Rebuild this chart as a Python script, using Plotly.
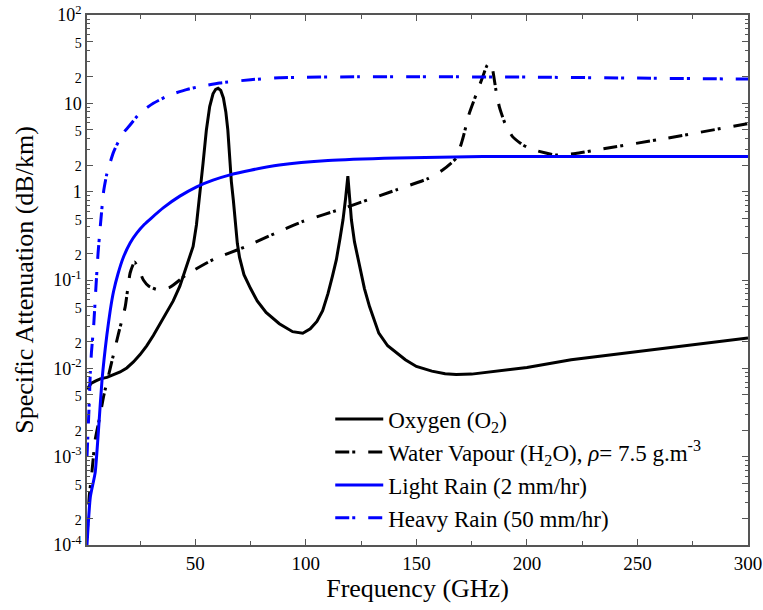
import plotly.graph_objects as go

# ---------------- data ----------------
oxy_f = [1, 3, 5, 7, 10, 13, 16, 19, 22, 25, 28, 31, 34, 37, 40, 43, 46, 49, 50.5, 52, 53.5,
         55, 56.5, 58, 59.2, 60.3, 61.5, 62.7, 63.8, 64.7, 65.5, 66.3, 67.2, 68, 69, 70, 72,
         75, 78, 82, 88, 94, 98.6, 102, 105, 107.6, 110, 112, 113.8, 115.5, 116.8, 118, 119,
         119.8, 120.6, 122, 124.3, 126.5, 128.8, 131, 133, 137, 141, 145, 150, 157, 163, 168,
         175, 185, 200, 220, 250, 280, 300]
oxy_v = [0.0058, 0.0068, 0.0072, 0.0076, 0.0079, 0.0084, 0.0091, 0.0101, 0.0118, 0.0143,
         0.018, 0.0235, 0.032, 0.043, 0.058, 0.085, 0.14, 0.24, 0.42, 0.9, 2.1,
         5.0, 9.2, 12.8, 14.4, 14.8, 14.0, 11.5, 8.0, 5.0, 2.4, 1.3, 0.8, 0.45, 0.26, 0.18,
         0.115, 0.08, 0.058, 0.043, 0.032, 0.026, 0.025, 0.028, 0.034, 0.045, 0.07, 0.11,
         0.17, 0.3, 0.48, 0.85, 1.5, 0.85, 0.48, 0.27, 0.14, 0.08, 0.05, 0.034, 0.025, 0.018,
         0.015, 0.0125, 0.0105, 0.0093, 0.0087, 0.0085, 0.0086, 0.0092, 0.0102, 0.0125,
         0.0155, 0.019, 0.022]

h2o_f = [1, 2, 3.2, 4.7, 7, 8.5, 11.5, 15.3, 18.3, 20.5, 22.5, 24.5, 26.5, 29, 32.6, 38.6, 46,
         58, 73, 88, 98.6, 118, 141, 155, 162, 168, 171, 174, 177, 180, 182, 183.3, 184.5,
         186, 187.5, 190, 193.5, 198, 202.5, 213, 222, 232.6, 262.7, 300]
h2o_v = [1.2e-4, 3.5e-4, 6.6e-4, 1.55e-3, 3e-3, 4.8e-3, 0.01, 0.025, 0.05, 0.12, 0.16, 0.13,
         0.1, 0.085, 0.078, 0.083, 0.115, 0.17, 0.24, 0.355, 0.46, 0.66, 1.05, 1.4, 1.77, 2.4,
         4.0, 7.8, 12.5, 20, 27, 29, 24, 14, 9.2, 6.0, 4.2, 3.4, 3.0, 2.6, 2.7, 3.0, 4.0, 5.9]

light_f = [1, 2.5, 4.7, 6.2, 7.8, 10, 11.5, 13, 15, 17.5, 20.5, 23.5, 27, 30, 35.6, 43, 50.6,
           58, 65.7, 75, 88, 110, 141, 180, 220, 260, 300]
light_v = [1e-4, 3.5e-4, 6.6e-4, 2e-3, 7.4e-3, 0.024, 0.045, 0.074, 0.117, 0.182, 0.263,
           0.339, 0.427, 0.5, 0.66, 0.89, 1.135, 1.35, 1.55, 1.75, 2.0, 2.25, 2.4, 2.5, 2.5,
           2.5, 2.5]

heavy_f = [1, 2, 2.5, 3, 4, 5, 6, 7, 8.5, 10, 13, 17, 20, 25, 31, 38, 46, 52, 61, 75, 88, 124,
           150, 200, 250, 300]
heavy_v = [1e-3, 4e-3, 9e-3, 0.015, 0.03, 0.08, 0.2, 0.4, 1.0, 1.6, 2.8, 4.5, 5.5, 7.8, 10,
           12.3, 14.3, 15.5, 17, 18.5, 19.5, 20, 20, 19.8, 19.3, 18.8]

names = ["Oxygen (O<sub>2</sub>)",
         "Water Vapour (H<sub>2</sub>O), <i>ρ</i>= 7.5 g.m<sup>-3</sup>",
         "Light Rain (2 mm/hr)",
         "Heavy Rain (50 mm/hr)"]

x_ticks = [50, 100, 150, 200, 250, 300]
x_minor = [25, 75, 125, 175, 225, 275]
decades = [-4, -3, -2, -1, 0, 1, 2]

# ---------------- figure ----------------
SERIF = "Liberation Serif, Times New Roman, serif"
DD = "14px,3px,3px,13px"
fig = go.Figure()
fig.add_trace(go.Scatter(x=oxy_f, y=oxy_v, name=names[0], mode="lines",
                         line=dict(color="black", width=3)))
fig.add_trace(go.Scatter(x=h2o_f, y=h2o_v, name=names[1], mode="lines",
                         line=dict(color="black", width=3, dash=DD, shape="spline", smoothing=0.5)))
fig.add_trace(go.Scatter(x=light_f, y=light_v, name=names[2], mode="lines",
                         line=dict(color="#0000ff", width=3, shape="spline", smoothing=0.5)))
fig.add_trace(go.Scatter(x=heavy_f, y=heavy_v, name=names[3], mode="lines",
                         line=dict(color="#0000ff", width=3, dash=DD, shape="spline", smoothing=0.5)))

# y ticks
yvals, ytext, yminor = [], [], []
small = "<span style='font-size:14px'>%s</span>"
for d in decades:
    v = 10.0 ** d
    yvals.append(v)
    if d == 0:
        ytext.append("1")
    elif d == 1:
        ytext.append("10")
    else:
        ytext.append("10<sup>%d</sup>" % d)
    if d < 2:
        yvals += [2 * v, 5 * v]
        ytext += [small % "2", small % "5"]
        yminor += [k * v for k in (3, 4, 6, 7, 8, 9)]

axis_common = dict(showline=True, linecolor="#555555", linewidth=1.5, mirror="allticks",
                   ticks="inside", tickcolor="#555555", tickwidth=1, showgrid=False,
                   zeroline=False, automargin=False)

fig.update_layout(
    width=763, height=610,
    margin=dict(l=87, r=15, t=15, b=65),
    paper_bgcolor="white", plot_bgcolor="white",
    font=dict(family=SERIF, color="black"),
    xaxis=dict(range=[1, 300], tickvals=x_ticks, ticktext=[str(v) for v in x_ticks],
               ticklen=6,
               tickfont=dict(family=SERIF, size=19, color="black"),
               minor=dict(tickvals=x_minor, ticklen=4, ticks="inside", tickcolor="#555555",
                          showgrid=False),
               title=dict(text="Frequency (GHz)", font=dict(family=SERIF, size=26, color="black"),
                          standoff=4),
               **axis_common),
    yaxis=dict(type="log", range=[-4, 2], tickvals=yvals, ticktext=ytext, ticklen=6,
               tickfont=dict(family=SERIF, size=18, color="black"),
               minor=dict(tickvals=yminor, ticklen=3, ticks="inside", tickcolor="#555555",
                          showgrid=False),
               title=dict(text="Specific Attenuation (dB/km)",
                          font=dict(family=SERIF, size=26, color="black"), standoff=12),
               **axis_common),
    legend=dict(x=0.368, y=0.278, xanchor="left", yanchor="top", bgcolor="rgba(0,0,0,0)",
                font=dict(family=SERIF, size=23, color="black"),
                itemwidth=48, tracegroupgap=0),
    showlegend=True,
)

fig.write_html("out.html")
